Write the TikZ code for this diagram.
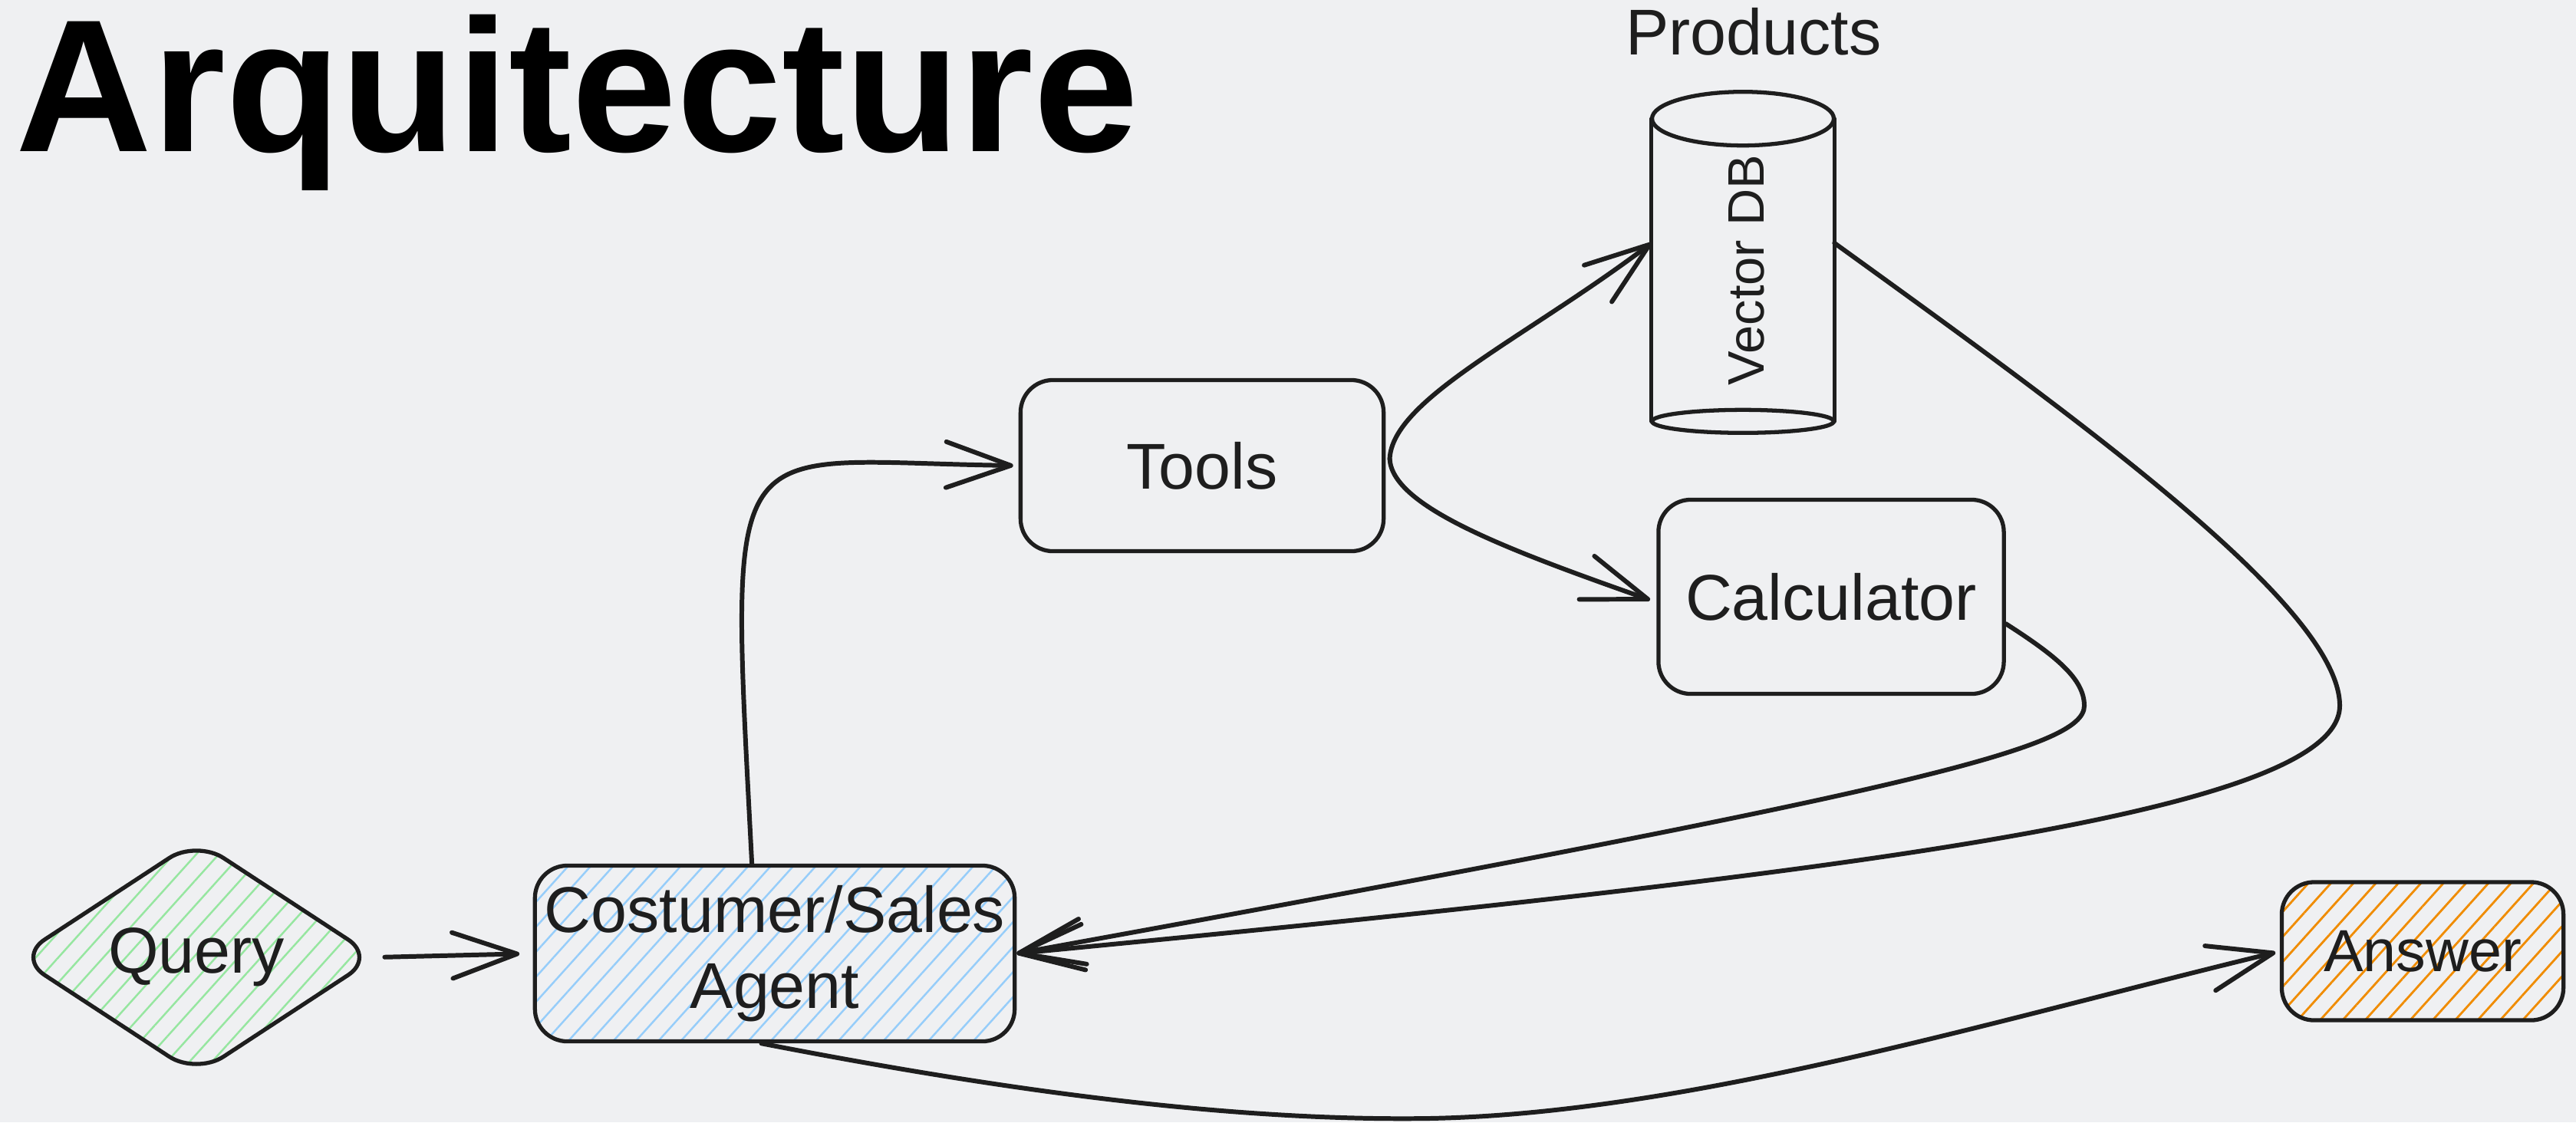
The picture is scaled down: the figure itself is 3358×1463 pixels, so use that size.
\documentclass[tikz,border=0pt]{standalone}
\usepackage{fontspec}
\setmainfont{Liberation Sans}
\usetikzlibrary{arrows.meta,patterns.meta,shapes.geometric}
\definecolor{bg}{RGB}{239,240,242}
\definecolor{ink}{RGB}{30,30,30}
\definecolor{hgreen}{RGB}{150,230,160}
\definecolor{hblue}{RGB}{150,205,250}
\definecolor{horange}{RGB}{240,140,0}
\newcommand{\lblfont}{\fontsize{24}{28}\selectfont}
\newcommand{\smallfont}{\fontsize{19}{23}\selectfont}
\newcommand{\ansfont}{\fontsize{22}{26}\selectfont}
\newcommand{\titlefont}{\bfseries\fontsize{70}{80}\selectfont}
\begin{document}
\begin{tikzpicture}[x=0.01cm, y=-0.01cm,
  ol/.style={draw=ink, line width=1.5pt, line cap=round, line join=round},
  box/.style={ol, rounded corners=12pt, inner sep=0pt, align=center, font=\lblfont, text=ink},
  hatch/.style={pattern={Lines[angle=48, distance=6.2pt, line width=#1]}},
  arr/.style={draw=ink, line width=1.7pt, line cap=round, line join=round,
    -{Straight Barb[length=24pt,width=17pt,round]}},
  lbl/.style={inner sep=0pt, font=\lblfont, text=ink}]
\fill[bg] (0,0) rectangle (3358,1463);
\useasboundingbox (0,0) rectangle (3358,1463);

% title
\node[anchor=base west, inner sep=0pt, font=\titlefont, text=black] (title) at (20,197) {Arquitecture};

% nodes
\node[diamond, ol, rounded corners=12pt, hatch=0.7pt, pattern color=hgreen,
      minimum width=4.67cm, minimum height=3.02cm, inner sep=0pt,
      font=\lblfont, text=ink] (query) at (256,1248) {Query};
\node[box, hatch=0.7pt, pattern color=hblue, minimum width=6.25cm, minimum height=2.29cm]
      (agent) at (1010,1243) {Costumer/Sales\\Agent};
\node[box, minimum width=4.73cm, minimum height=2.23cm] (tools) at (1567,607) {Tools};
\node[box, minimum width=4.5cm, minimum height=2.53cm] (calc) at (2387,778) {Calculator};
\node[box, hatch=0.8pt, pattern color=horange, minimum width=3.67cm, minimum height=1.8cm,
      font=\ansfont] (answer) at (3158,1240) {Answer};

% vector DB cylinder
\node[inner sep=0pt, minimum width=2.37cm, minimum height=3.93cm] (vdb) at (2272,352) {};
\draw[ol] (vdb.north west) -- (vdb.south west);
\draw[ol] (vdb.north east) -- (vdb.south east);
\draw[ol] (vdb.north) ellipse[x radius=118.5, y radius=35];
\draw[ol] (vdb.south) ellipse[x radius=118.5, y radius=15];
\node[lbl, rotate=90, font=\smallfont] (vdbtext) at ([xshift=1.5pt]vdb.center) {Vector DB};
\node[lbl, anchor=base] (products) at (2286,71) {Products};

% connectors
\coordinate (tout) at ([xshift=1.5pt,yshift=2.5pt]tools.east);
\draw[arr, shorten <=3pt, shorten >=5pt] (query.east) -- (agent.west);
\draw[arr, shorten >=2pt] ([xshift=-8.5pt]agent.north)
  .. controls (950,540) and (940,602) .. (tools.west);
\draw[arr] (tout) .. controls (1815,520) and (1990,440) .. ([yshift=10pt]vdb.west);
\draw[arr, shorten >=2.5pt] (tout) .. controls (1815,660) and (1960,715) .. ([yshift=-2pt]calc.west);
\draw[arr] ([yshift=-10pt]calc.east) .. controls (2680,855) and (2717,885) .. (2717,920)
  .. controls (2717,975) and (2500,1030) .. (agent.east);
\draw[arr] ([yshift=10pt]vdb.east) .. controls (2700,540) and (3050,790) .. (3050,920)
  .. controls (3050,1060) and (2400,1140) .. (agent.east);
\draw[arr, shorten >=2pt] ([xshift=-5pt]agent.south) .. controls (1300,1420) and (1600,1462) .. (1863,1458)
  .. controls (2200,1452) and (2600,1330) .. (answer.west);
\end{tikzpicture}
\end{document}
